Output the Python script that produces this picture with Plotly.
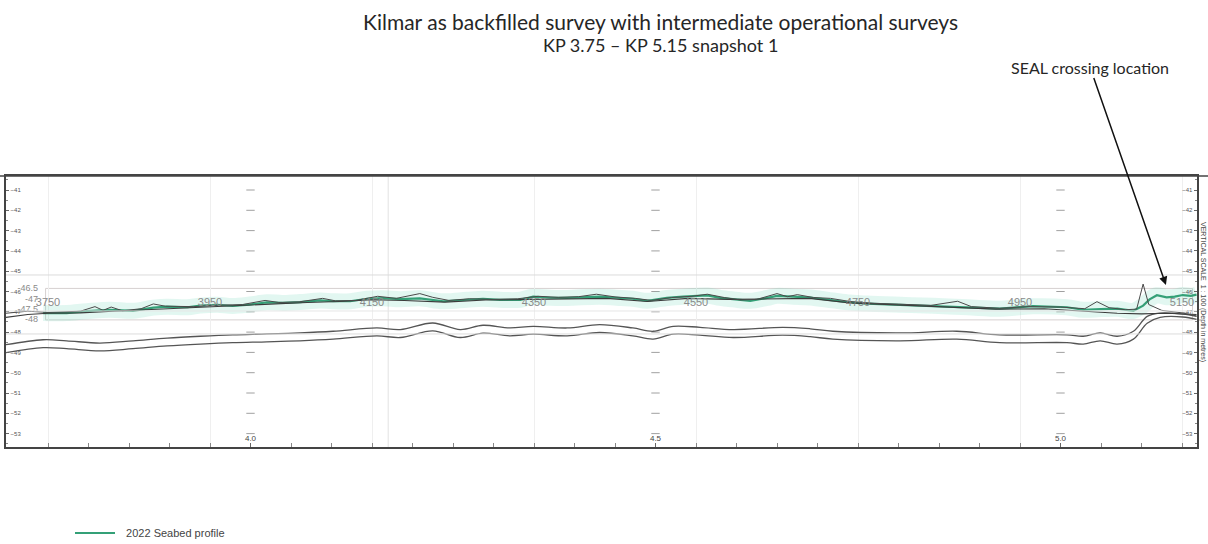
import plotly.graph_objects as go

# ---------------- data ----------------
# 2022 seabed profile (chainage m, level m)
chainage_2022 = [3744, 3773, 3798, 3827, 3855, 3880, 3897, 3922, 3938, 3959, 3978, 3999, 4020, 4040,
                 4061, 4086, 4102, 4123, 4144, 4164, 4185, 4209, 4238, 4267, 4287, 4308, 4333, 4349,
                 4370, 4391, 4431, 4452, 4472, 4490, 4514, 4534, 4564, 4580, 4596, 4617, 4638, 4650,
                 4670, 4691, 4719, 4740, 4761, 4802, 4843, 4885, 4925, 4946, 4966, 5008, 5028, 5050,
                 5070, 5090, 5102, 5110, 5119, 5131, 5141, 5151, 5161, 5168]
level_2022 = [-47.71, -47.71, -47.62, -47.55, -47.60, -47.45, -47.40, -47.43, -47.35, -47.31, -47.37,
              -47.30, -47.19, -47.22, -47.18, -47.10, -47.14, -47.14, -47.02, -46.99, -47.04, -47.00,
              -47.14, -47.07, -47.02, -47.07, -47.07, -46.92, -46.97, -46.98, -46.92, -46.97, -47.02,
              -47.12, -46.98, -46.92, -46.86, -46.98, -47.05, -47.12, -46.98, -46.88, -46.92, -46.96,
              -47.10, -47.20, -47.25, -47.31, -47.36, -47.43, -47.50, -47.44, -47.38, -47.43, -47.55,
              -47.52, -47.50, -47.60, -47.35, -47.05, -46.85, -46.95, -46.92, -46.84, -46.88, -46.82]

# intermediate operational survey A
chainage_survey_a = [3698, 3725, 3750, 3790, 3808, 3818, 3828, 3842, 3865, 3880, 3895, 3930, 3960, 3990,
                     4018, 4035, 4060, 4089, 4105, 4130, 4157, 4180, 4209, 4225, 4245, 4270, 4300, 4330,
                     4355, 4380, 4405, 4427, 4450, 4475, 4495, 4520, 4545, 4564, 4585, 4605, 4625, 4650,
                     4663, 4675, 4695, 4716, 4740, 4770, 4800, 4840, 4873, 4890, 4925, 4960, 5000, 5030,
                     5045, 5060, 5080, 5094, 5102, 5109, 5125, 5150, 5168]
level_survey_a = [-47.72, -47.62, -47.68, -47.62, -47.40, -47.58, -47.42, -47.60, -47.50, -47.27, -47.38,
                  -47.40, -47.33, -47.30, -47.10, -47.20, -47.17, -47.00, -47.12, -47.10, -46.90, -47.00,
                  -46.77, -46.95, -47.10, -47.02, -47.05, -47.02, -46.90, -46.95, -46.92, -46.80, -46.93,
                  -47.00, -47.10, -46.96, -46.90, -46.80, -46.96, -47.08, -47.05, -46.77, -46.92, -46.82,
                  -46.96, -47.00, -47.15, -47.24, -47.28, -47.34, -47.14, -47.40, -47.48, -47.40, -47.42,
                  -47.50, -47.16, -47.45, -47.55, -47.52, -46.31, -47.30, -47.58, -47.70, -47.85]

# intermediate operational survey B
chainage_survey_b = [3698, 3725, 3750, 3790, 3830, 3870, 3910, 3950, 3990, 4030, 4070, 4110, 4150, 4190,
                     4240, 4290, 4340, 4390, 4440, 4490, 4540, 4590, 4640, 4690, 4740, 4800, 4860, 4920,
                     4980, 5030, 5070, 5100, 5130, 5168]
level_survey_b = [-47.92, -47.78, -47.72, -47.70, -47.62, -47.55, -47.48, -47.38, -47.33, -47.25, -47.20,
                  -47.15, -47.07, -47.10, -47.18, -47.08, -47.05, -47.02, -47.00, -47.15, -47.00, -47.05,
                  -47.02, -47.00, -47.22, -47.33, -47.42, -47.52, -47.50, -47.62, -47.72, -47.75, -47.72,
                  -47.78]

# as-backfilled lower profile pair
chainage_lower = [3698, 3744, 3773, 3814, 3855, 3897, 3938, 3978, 4020, 4061, 4102, 4156, 4185, 4225,
                  4259, 4287, 4320, 4349, 4391, 4431, 4472, 4497, 4522, 4555, 4596, 4657, 4691, 4719,
                  4802, 4872, 4925, 5008, 5028, 5049, 5070, 5090, 5107, 5123, 5151, 5168]
level_lower_top = [-49.24, -49.00, -49.05, -49.16, -49.05, -48.92, -48.83, -48.76, -48.72, -48.67, -48.59,
                   -48.43, -48.51, -48.19, -48.51, -48.30, -48.43, -48.35, -48.43, -48.27, -48.43, -48.59,
                   -48.35, -48.40, -48.51, -48.40, -48.47, -48.59, -48.67, -48.59, -48.76, -48.76, -48.83,
                   -48.67, -48.83, -48.59, -47.87, -47.71, -47.76, -47.87]
level_lower_bottom = [-49.62, -49.38, -49.43, -49.54, -49.43, -49.30, -49.21, -49.14, -49.10, -49.05, -48.97,
                      -48.81, -48.89, -48.57, -48.89, -48.68, -48.81, -48.73, -48.81, -48.65, -48.81, -48.97,
                      -48.73, -48.78, -48.89, -48.78, -48.85, -48.97, -49.05, -48.97, -49.14, -49.14, -49.21,
                      -49.05, -49.21, -48.97, -48.20, -47.92, -47.90, -48.02]

# axis ticks
inner_x_ticks = [3750, 3950, 4150, 4350, 4550, 4750, 4950, 5150]
inner_x_labels = ["3750", "3950", "4150", "4350", "4550", "4750", "4950", "5150"]
inner_y_ticks = [-46.5, -47, -47.5, -48]
inner_y_labels = ["-46.5", "-47", "-47.5", "-48"]
kp_marks = [4.0, 4.5, 5.0]
outer_levels = [-41, -42, -43, -44, -45, -46, -47, -48, -49, -50, -51, -52, -53]

title_line1 = "Kilmar as backfilled survey with intermediate operational surveys"
title_line2 = "KP 3.75 \u2013 KP 5.15 snapshot 1"

# ---------------- figure ----------------
W, H = 1208, 544
L, R, T, B = 6, 11, 176, 97
PW, PH = W - L - R, H - T - B
M_RANGE = [3698.15, 5168.52]
KP_RANGE = [M_RANGE[0] / 1000, M_RANGE[1] / 1000]
LEVEL_RANGE = [-54.181, -41.089]
OUTER_RANGE = [-53.66, -40.31]

GREEN = "#34a077"


def px_x(px):
    return (px - L) / PW


def px_y(py):
    return (H - B - py) / PH


fig = go.Figure()

# dash columns at KP marks (base subplot x / y)
for kp in kp_marks:
    fig.add_trace(go.Scatter(
        x=[kp] * len(outer_levels), y=outer_levels, xaxis="x", yaxis="y",
        mode="markers", showlegend=False, hoverinfo="skip",
        marker=dict(symbol="line-ew", size=6, line=dict(width=1, color="#a0a0a0"))))

# soft band under the 2022 profile
fig.add_trace(go.Scatter(
    x=chainage_2022, y=level_2022, xaxis="x2", yaxis="y2", mode="lines",
    line=dict(color="rgba(110,215,185,0.2)", width=16, shape="spline"),
    showlegend=False, hoverinfo="skip"))

fig.add_trace(go.Scatter(
    x=chainage_lower, y=level_lower_top, xaxis="x2", yaxis="y2", mode="lines",
    line=dict(color="#555555", width=1.3, shape="spline"), showlegend=False))
fig.add_trace(go.Scatter(
    x=chainage_lower, y=level_lower_bottom, xaxis="x2", yaxis="y2", mode="lines",
    line=dict(color="#555555", width=1.3, shape="spline"), showlegend=False))

fig.add_trace(go.Scatter(
    x=chainage_2022, y=level_2022, xaxis="x2", yaxis="y2", mode="lines",
    line=dict(color=GREEN, width=2.2), name="\u00a0\u00a02022 Seabed profile", showlegend=True))

fig.add_trace(go.Scatter(
    x=chainage_survey_b, y=level_survey_b, xaxis="x2", yaxis="y2", mode="lines",
    line=dict(color="#3c3c3c", width=1.1), showlegend=False))
fig.add_trace(go.Scatter(
    x=chainage_survey_a, y=level_survey_a, xaxis="x2", yaxis="y2", mode="lines",
    line=dict(color="#4a4a4a", width=1.0), showlegend=False))

# carriers for the right-hand outer axis and the KP label axis
fig.add_trace(go.Scatter(x=[None], y=[None], xaxis="x", yaxis="y3", showlegend=False))
fig.add_trace(go.Scatter(x=[None], y=[None], xaxis="x3", yaxis="y", showlegend=False))

small = dict(family="Liberation Sans", size=6, color="#555555")
gray_font = dict(family="Liberation Sans", size=11, color="#8a8a8a")

fig.update_layout(
    width=W, height=H, autosize=False,
    margin=dict(l=L, r=R, t=T, b=B, pad=0, autoexpand=False),
    paper_bgcolor="white", plot_bgcolor="white",
    xaxis=dict(
        range=KP_RANGE, domain=[0, 1], anchor="y", automargin=False,
        tickmode="linear", tick0=0, dtick=0.5, showticklabels=False,
        ticks="inside", ticklen=4, tickcolor="#666",
        minor=dict(dtick=0.05, tick0=0, ticks="inside", ticklen=4, tickcolor="#888"),
        showgrid=False, zeroline=False,
        showline=True, mirror=True, linecolor="#444", linewidth=1.5),
    xaxis3=dict(
        range=KP_RANGE, overlaying="x", anchor="free", position=px_y(432), side="bottom",
        automargin=False, tickmode="linear", tick0=0, dtick=0.5, tickformat=".1f",
        ticks="", tickfont=dict(family="Liberation Sans", size=8, color="#444"),
        showgrid=False, zeroline=False, showline=False),
    yaxis=dict(
        range=OUTER_RANGE, domain=[0, 1], anchor="x", side="left", automargin=False,
        tickmode="linear", tick0=-41, dtick=1,
        ticks="inside", ticklen=3, tickcolor="#666",
        ticklabelposition="inside", tickfont=small,
        minor=dict(dtick=0.5, ticks="inside", ticklen=2, tickcolor="#888"),
        showgrid=False, zeroline=False,
        showline=True, linecolor="#444", linewidth=1.5),
    yaxis3=dict(
        range=OUTER_RANGE, overlaying="y", anchor="x", side="right", automargin=False,
        tickmode="linear", tick0=-41, dtick=1,
        ticks="inside", ticklen=3, tickcolor="#666",
        ticklabelposition="inside", tickfont=small,
        minor=dict(dtick=0.5, ticks="inside", ticklen=2, tickcolor="#888"),
        showgrid=False, zeroline=False,
        showline=True, linecolor="#444", linewidth=1.5),
    xaxis2=dict(
        range=M_RANGE, overlaying="x", anchor="free", position=px_y(294), side="bottom",
        automargin=False,
        tickmode="array", tickvals=inner_x_ticks, ticktext=inner_x_labels,
        tickfont=gray_font, ticks="", showline=False, zeroline=False,
        showgrid=True, gridcolor="#efefef", gridwidth=1),
    yaxis2=dict(
        range=LEVEL_RANGE, overlaying="y", anchor="free", position=px_x(38), side="left",
        automargin=False,
        tickmode="array", tickvals=inner_y_ticks, ticktext=inner_y_labels,
        tickfont=dict(family="Liberation Sans", size=9, color="#8a8a8a"),
        ticks="", showgrid=False, zeroline=False, showline=False),
    showlegend=True,
    legend=dict(x=px_x(70), y=px_y(533), xanchor="left", yanchor="middle",
                font=dict(family="Liberation Sans", size=11, color="#444"),
                bgcolor="rgba(0,0,0,0)", itemwidth=40, borderwidth=0),
)

# light reference lines and inner profile box
shapes = [
    dict(type="line", xref="paper", yref="y2", x0=0, x1=1, y0=-45.87, y1=-45.87,
         line=dict(color="#dcdcdc", width=1)),
    dict(type="line", xref="paper", yref="y2", x0=0, x1=1, y0=-48.72, y1=-48.72,
         line=dict(color="#dcdcdc", width=1)),
    dict(type="line", xref="paper", yref="y2", x0=0, x1=1, y0=-47.61, y1=-47.61,
         line=dict(color="#e6e6e6", width=1)),
    dict(type="rect", xref="x2", yref="y2", x0=3747, x1=5163, y0=-46.52, y1=-48.04,
         line=dict(color="#d6d0d0", width=1), layer="below"),
    dict(type="line", xref="x2", yref="paper", x0=4170, x1=4170, y0=0, y1=1,
         line=dict(color="#e2e2e2", width=1), layer="below"),
    dict(type="line", xref="paper", yref="paper", x0=px_x(0), x1=px_x(W), y0=1, y1=1,
         line=dict(color="#444", width=1.5)),
]
fig.update_layout(shapes=shapes)

annotations = [
    dict(text=title_line1, xref="paper", yref="paper", x=px_x(660), y=px_y(22),
         xanchor="center", yanchor="middle", showarrow=False,
         font=dict(family="Lato", size=21, color="#262626")),
    dict(text=title_line2, xref="paper", yref="paper", x=px_x(660), y=px_y(45),
         xanchor="center", yanchor="middle", showarrow=False,
         font=dict(family="Lato", size=18, color="#262626")),
    dict(text="SEAL crossing location", xref="x2", yref="y2", x=5130.2, y=-46.355,
         ax=-76, ay=-218, showarrow=True, arrowhead=2, arrowsize=1.1, arrowwidth=1.5,
         arrowcolor="#111", font=dict(family="Lato", size=16, color="#262626")),
    dict(text="VERTICAL SCALE  1 : 100 (Depth in metres)", xref="paper", yref="paper",
         x=px_x(1203), y=px_y(292), textangle=90,
         xanchor="center", yanchor="middle", showarrow=False,
         font=dict(family="Liberation Sans", size=7, color="#444")),
]
fig.update_layout(annotations=annotations)

fig.write_html("out.html", config={"displayModeBar": False},
               post_script="document.body.style.margin='0';document.body.style.padding='0';")
